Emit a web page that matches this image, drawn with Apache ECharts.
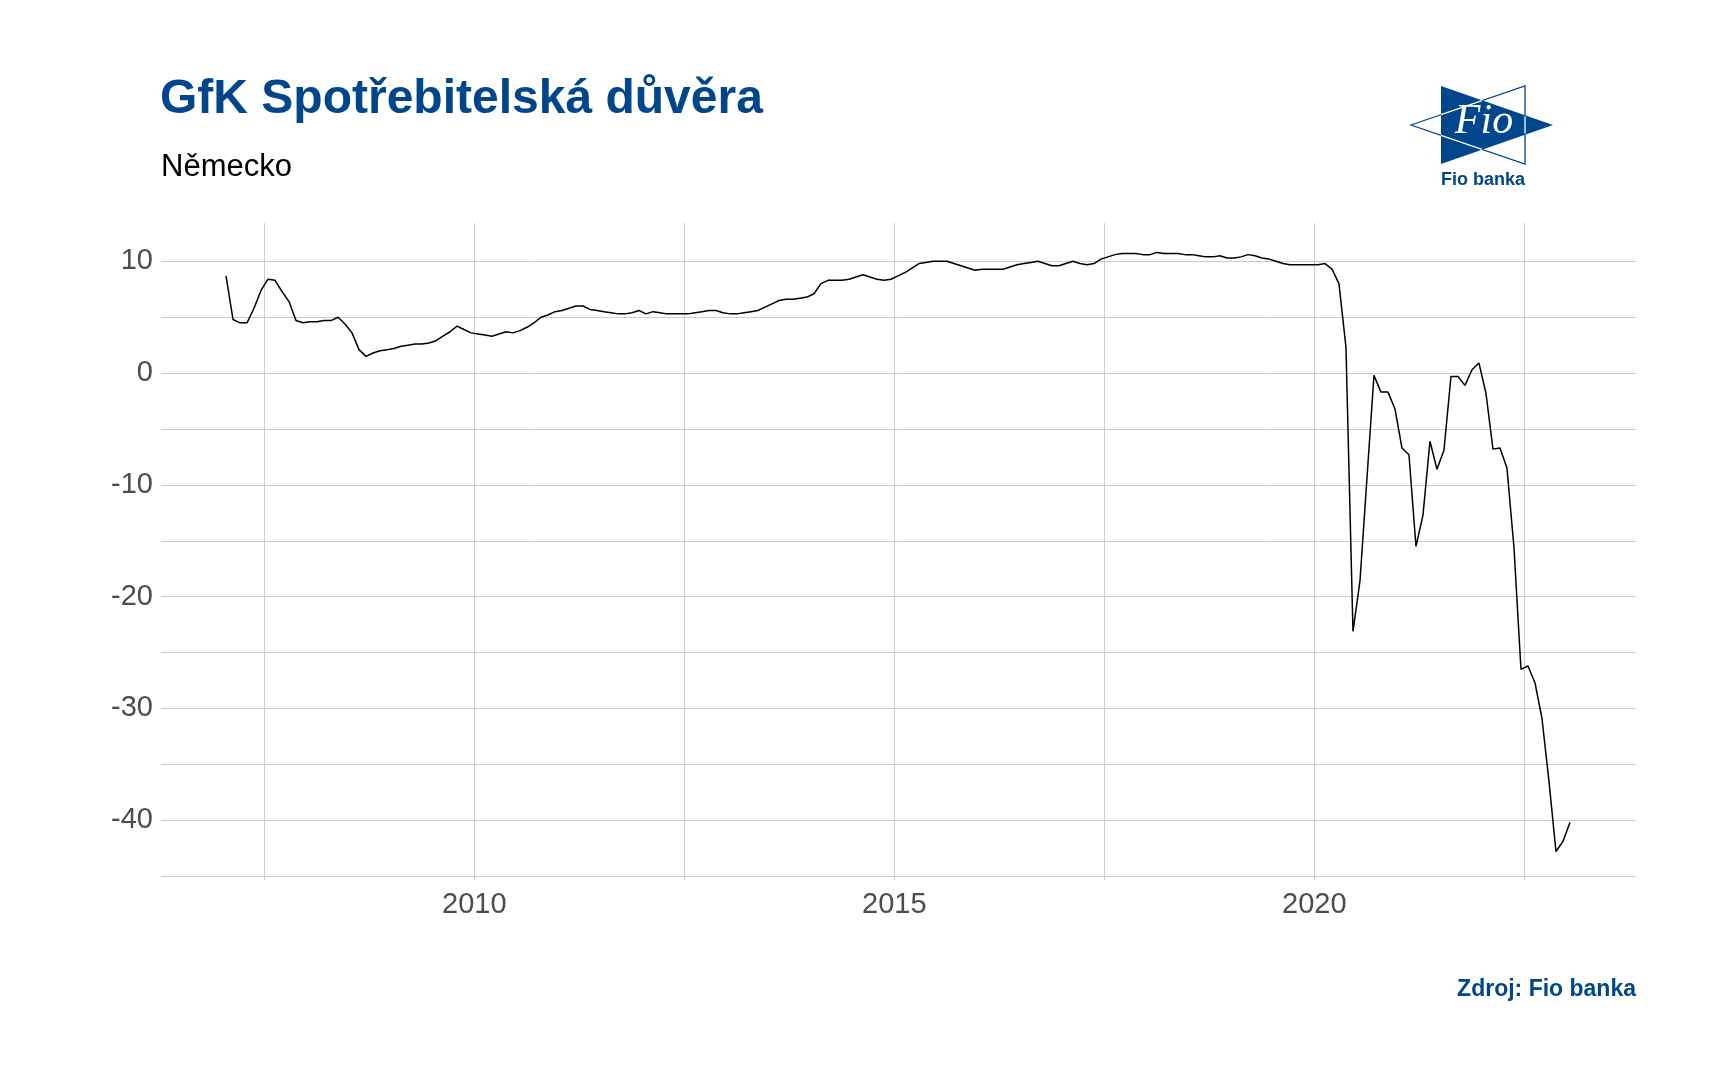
<!DOCTYPE html>
<html>
<head>
<meta charset="utf-8">
<script src="https://cdn.jsdelivr.net/npm/echarts@6/dist/echarts.min.js"></script>
<style>
html,body{margin:0;padding:0;background:#fff;}
#chart{width:1716px;height:1078px;}
</style>
</head>
<body>
<div id="chart"></div>
<script>
// GfK consumer climate, Germany, monthly (first point Jan 2007)
const firstYear = 2007;
const v2007 = [8.7, 4.8, 4.5, 4.5, 5.8, 7.4, 8.4, 8.3, 7.3, 6.4, 4.7, 4.5];
const v2008 = [4.6, 4.6, 4.7, 4.7, 5.0, 4.4, 3.6, 2.1, 1.5, 1.8, 2.0, 2.1];
const v2009 = [2.2, 2.4, 2.5, 2.6, 2.6, 2.7, 2.9, 3.3, 3.7, 4.2, 3.9, 3.6];
const v2010 = [3.5, 3.4, 3.3, 3.5, 3.7, 3.6, 3.8, 4.1, 4.5, 5.0, 5.2, 5.5];
const v2011 = [5.6, 5.8, 6.0, 6.0, 5.7, 5.6, 5.5, 5.4, 5.3, 5.3, 5.4, 5.6];
const v2012 = [5.3, 5.5, 5.4, 5.3, 5.3, 5.3, 5.3, 5.4, 5.5, 5.6, 5.6, 5.4];
const v2013 = [5.3, 5.3, 5.4, 5.5, 5.6, 5.9, 6.2, 6.5, 6.6, 6.6, 6.7, 6.8];
const v2014 = [7.1, 8.0, 8.3, 8.3, 8.3, 8.4, 8.6, 8.8, 8.6, 8.4, 8.3, 8.4];
const v2015 = [8.7, 9.0, 9.4, 9.8, 9.9, 10.0, 10.0, 10.0, 9.8, 9.6, 9.4, 9.2];
const v2016 = [9.3, 9.3, 9.3, 9.3, 9.5, 9.7, 9.8, 9.9, 10.0, 9.8, 9.6, 9.6];
const v2017 = [9.8, 10.0, 9.8, 9.7, 9.8, 10.2, 10.4, 10.6, 10.7, 10.7, 10.7, 10.6];
const v2018 = [10.6, 10.8, 10.7, 10.7, 10.7, 10.6, 10.6, 10.5, 10.4, 10.4, 10.5, 10.3];
const v2019 = [10.3, 10.4, 10.6, 10.5, 10.3, 10.2, 10.0, 9.8, 9.7, 9.7, 9.7, 9.7];
const v2020 = [9.7, 9.8, 9.3, 8.0, 2.3, -23.1, -18.6, -9.4, -0.2, -1.7, -1.7, -3.2];
const v2021 = [-6.7, -7.3, -15.5, -12.7, -6.1, -8.6, -6.9, -0.3, -0.3, -1.1, 0.3, 0.9];
const v2022 = [-1.8, -6.8, -6.7, -8.5, -15.6, -26.5, -26.2, -27.7, -30.9, -36.5, -42.8, -41.9];
const v2023 = [-40.2];

const yearBlocks = [v2007, v2008, v2009, v2010, v2011, v2012, v2013, v2014,
                    v2015, v2016, v2017, v2018, v2019, v2020, v2021, v2022, v2023];

const xTickValues = [2007.5, 2010, 2012.5, 2015, 2017.5, 2020, 2022.5];
const xLabelValues = [2010, 2015, 2020];
const yTickValues = [-45, -40, -35, -30, -25, -20, -15, -10, -5, 0, 5, 10];
const yLabelValues = [-40, -30, -20, -10, 0, 10];

// build [decimal year, value] pairs (observations dated mid-month)
const seriesData = [];
yearBlocks.forEach((block, yi) => {
  block.forEach((val, mi) => {
    const dec = firstYear + yi + mi / 12 + 16 / 365;
    seriesData.push([dec, val]);
  });
});

const BLUE = '#00468C';
const FONT = '"Liberation Sans", Arial, sans-serif';

const chart = echarts.init(document.getElementById('chart'), null, {renderer: 'canvas'});
chart.setOption({
  backgroundColor: '#ffffff',
  animation: false,
  grid: {left: 161, right: 80, top: 223, bottom: 198, containLabel: false},
  xAxis: {
    type: 'value',
    min: 2006.27,
    max: 2023.83,
    axisLine: {show: false},
    axisTick: {show: false, customValues: xTickValues},
    axisLabel: {
      customValues: xLabelValues,
      color: '#4D4D4D',
      fontSize: 29,
      fontFamily: FONT,
      margin: 10,
      formatter: v => String(v)
    },
    splitLine: {show: true, lineStyle: {color: '#CCCCCC', width: 1}}
  },
  yAxis: {
    type: 'value',
    min: -45.35,
    max: 13.43,
    axisLine: {show: false},
    axisTick: {show: false, customValues: yTickValues},
    axisLabel: {
      customValues: yLabelValues,
      color: '#4D4D4D',
      fontSize: 29,
      fontFamily: FONT,
      margin: 8,
      formatter: v => String(v)
    },
    splitLine: {show: true, lineStyle: {color: '#CCCCCC', width: 1}}
  },
  series: [{
    type: 'line',
    data: seriesData,
    showSymbol: false,
    symbol: 'none',
    lineStyle: {color: '#000000', width: 1.5},
    silent: true
  }],
  graphic: [
    {type: 'text', x: 160, y: 100, style: {text: 'GfK Spotřebitelská důvěra', fill: BLUE, font: 'bold 48px ' + FONT, verticalAlign: 'middle'}},
    {type: 'text', x: 161, y: 167, style: {text: 'Německo', fill: '#000000', font: '31px ' + FONT, verticalAlign: 'middle'}},
    {type: 'text', x: 1636, y: 990, style: {text: 'Zdroj: Fio banka', fill: BLUE, font: 'bold 23px ' + FONT, align: 'right', verticalAlign: 'middle'}},
    // Fio logo
    {type: 'polygon', shape: {points: [[1411,125],[1525,86],[1525,164]]}, style: {fill: 'none', stroke: BLUE, lineWidth: 1.3}},
    {type: 'polygon', shape: {points: [[1441,86],[1441,164],[1553,125]]}, style: {fill: BLUE}},
    {type: 'polyline', shape: {points: [[1441,114.7],[1482,100.7]]}, style: {stroke: '#ffffff', lineWidth: 1.3}},
    {type: 'polyline', shape: {points: [[1441,135.3],[1482,149.3]]}, style: {stroke: '#ffffff', lineWidth: 1.3}},
    {type: 'polyline', shape: {points: [[1525,116.6],[1525,133.4]]}, style: {stroke: '#ffffff', lineWidth: 1.3}},
    {type: 'text', x: 1484, y: 122, style: {text: 'Fio', fill: '#ffffff', font: 'italic 42px "Liberation Serif", serif', align: 'center', verticalAlign: 'middle'}},
    {type: 'text', x: 1483, y: 180, style: {text: 'Fio banka', fill: BLUE, font: 'bold 18px ' + FONT, align: 'center', verticalAlign: 'middle'}}
  ]
});
</script>
</body>
</html>
